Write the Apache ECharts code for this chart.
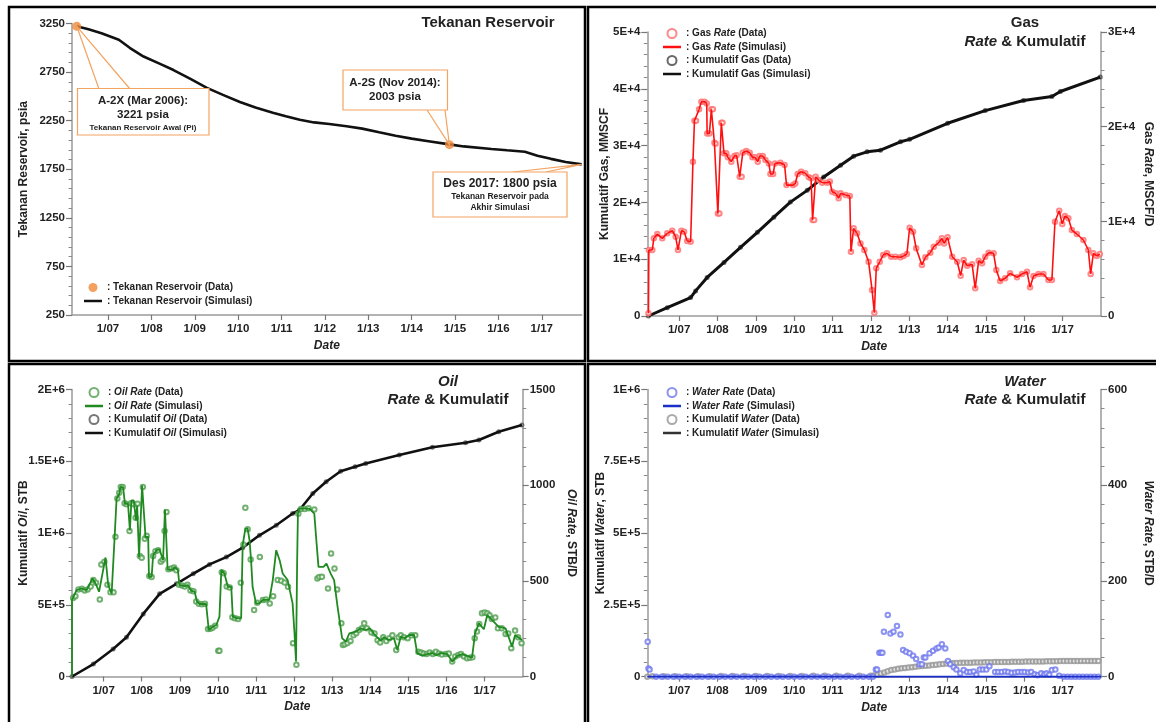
<!DOCTYPE html>
<html>
<head>
<meta charset="utf-8">
<script src="https://cdn.jsdelivr.net/npm/echarts@6.0.0/dist/echarts.min.js"></script>
<style>
  html, body { margin: 0; padding: 0; background: #fff; }
  #main { width: 1156px; height: 722px; }
</style>
</head>
<body>
<div id="main"></div>
<script>
// ---- Data (x = decimal year) ----
const yearTicks = [2007, 2008, 2009, 2010, 2011, 2012, 2013, 2014, 2015, 2016, 2017];

// Reservoir pressure, psia
const pressureData = [[2006.28, 3221], [2014.87, 2003]];
const pressureSim = [
  [2006.28, 3221], [2006.55, 3190], [2006.85, 3150], [2007.25, 3082], [2007.5, 3000],
  [2007.82, 2910], [2008.2, 2835], [2008.51, 2771], [2008.9, 2680], [2009.28, 2588],
  [2009.65, 2515], [2010.04, 2442], [2010.4, 2385], [2010.8, 2332], [2011.1, 2295],
  [2011.42, 2259], [2011.75, 2232], [2012.1, 2215], [2012.5, 2192], [2012.86, 2168],
  [2013.25, 2130], [2013.63, 2094], [2014.0, 2065], [2014.39, 2039], [2014.87, 2006],
  [2015.2, 1985], [2015.84, 1959], [2016.2, 1945], [2016.61, 1930], [2016.9, 1890],
  [2017.21, 1857], [2017.55, 1825], [2017.92, 1800]
];

// Gas rate, MSCF/D
const gasRate = [
  [2006.2, 300], [2006.21, 6970], [2006.3, 6970], [2006.34, 8200], [2006.43, 8660], [2006.56, 8200],
  [2006.69, 8730], [2006.82, 9010], [2006.91, 8370], [2006.97, 6970], [2007.06, 9010], [2007.13, 8900],
  [2007.21, 7920], [2007.3, 7850], [2007.36, 16300], [2007.4, 20620], [2007.44, 20620], [2007.52, 21830],
  [2007.58, 22630], [2007.66, 22630], [2007.72, 22460], [2007.73, 19290], [2007.79, 19290], [2007.84, 21830],
  [2007.88, 21830], [2007.92, 18300], [2007.95, 18200], [2008.01, 10840], [2008.05, 10840], [2008.1, 20410],
  [2008.13, 20410], [2008.17, 17180], [2008.23, 17180], [2008.27, 16760], [2008.36, 16300], [2008.44, 16900],
  [2008.5, 16970], [2008.58, 14710], [2008.63, 14710], [2008.66, 17250], [2008.75, 17420], [2008.84, 17250],
  [2008.91, 16760], [2008.98, 16760], [2009.05, 16300], [2009.1, 16900], [2009.18, 16900], [2009.25, 16470],
  [2009.34, 16120], [2009.38, 15000], [2009.45, 15000], [2009.5, 16120], [2009.64, 16190], [2009.75, 15950],
  [2009.8, 13830], [2009.97, 13830], [2010.03, 14000], [2010.09, 15000], [2010.18, 15240], [2010.29, 15070],
  [2010.38, 14650], [2010.44, 14540], [2010.48, 10140], [2010.52, 10140], [2010.56, 14710], [2010.64, 14360],
  [2010.73, 14080], [2010.86, 14080], [2010.93, 14200], [2010.99, 13130], [2011.08, 12960], [2011.16, 12430],
  [2011.21, 12960], [2011.34, 12780], [2011.45, 12670], [2011.48, 6790], [2011.55, 9260], [2011.64, 8730],
  [2011.73, 7670], [2011.83, 6970], [2011.94, 5730], [2012.03, 2750], [2012.09, 350], [2012.14, 5040],
  [2012.23, 5730], [2012.32, 6440], [2012.42, 6620], [2012.53, 6260], [2012.64, 6260], [2012.77, 6200],
  [2012.85, 6340], [2012.94, 6550], [2013.01, 9320], [2013.1, 8900], [2013.18, 7150], [2013.33, 5390],
  [2013.42, 6200], [2013.55, 6690], [2013.64, 7320], [2013.77, 7740], [2013.85, 8200], [2013.91, 7670],
  [2014.0, 8310], [2014.12, 6260], [2014.25, 5730], [2014.34, 4260], [2014.42, 5910], [2014.51, 5310],
  [2014.64, 5460], [2014.72, 2920], [2014.81, 5840], [2014.9, 5570], [2014.98, 6260], [2015.07, 6690],
  [2015.2, 6620], [2015.27, 4860], [2015.37, 3700], [2015.5, 3980], [2015.63, 4510], [2015.81, 4090],
  [2015.94, 4440], [2016.07, 4680], [2016.15, 3030], [2016.24, 4220], [2016.37, 4440], [2016.5, 4440],
  [2016.63, 3800], [2016.72, 3800], [2016.8, 9960], [2016.91, 11120], [2016.99, 9710], [2017.06, 10560],
  [2017.15, 10320], [2017.24, 9080], [2017.37, 8660], [2017.54, 8030], [2017.67, 6970], [2017.73, 4440],
  [2017.8, 6620], [2017.89, 6340], [2017.97, 6550]
];

// Cumulative gas, MMSCF
const gasCum = [
  [2006.2, 0], [2006.69, 1470], [2007.3, 3240], [2007.43, 4420], [2007.73, 6780], [2008.17, 9430],
  [2008.6, 12090], [2009.04, 14740], [2009.47, 17400], [2009.9, 20050], [2010.34, 22120], [2010.77, 24480],
  [2011.21, 26550], [2011.55, 28140], [2011.9, 28900], [2012.25, 29200], [2012.77, 30670], [2013.01, 31100],
  [2014.0, 33930], [2014.98, 36160], [2015.98, 37930], [2016.72, 38640], [2016.94, 39520], [2017.98, 42070]
];

// Oil rate, STB/D
const oilRateSim = [
  [2006.17, 0], [2006.17, 400], [2006.2, 400], [2006.29, 451], [2006.42, 460], [2006.55, 451], [2006.71, 512],
  [2006.79, 486], [2006.88, 443], [2006.97, 538], [2007.05, 622], [2007.12, 478], [2007.21, 434], [2007.29, 733],
  [2007.34, 929], [2007.41, 955], [2007.44, 990], [2007.51, 990], [2007.56, 903], [2007.64, 903], [2007.69, 764],
  [2007.73, 920], [2007.79, 920], [2007.85, 816], [2007.88, 894], [2007.93, 625], [2007.97, 625], [2008.01, 998],
  [2008.05, 998], [2008.1, 729], [2008.17, 729], [2008.19, 521], [2008.26, 521], [2008.3, 634], [2008.39, 660],
  [2008.47, 664], [2008.56, 608], [2008.61, 872], [2008.65, 872], [2008.68, 559], [2008.82, 559], [2008.86, 573],
  [2008.95, 556], [2008.99, 478], [2009.13, 472], [2009.21, 478], [2009.3, 448], [2009.39, 443], [2009.45, 391],
  [2009.52, 379], [2009.69, 379], [2009.76, 243], [2009.87, 260], [2009.96, 269], [2010.04, 313], [2010.09, 556],
  [2010.17, 538], [2010.26, 469], [2010.35, 469], [2010.39, 313], [2010.5, 304], [2010.61, 304], [2010.65, 686],
  [2010.72, 773], [2010.78, 773], [2010.83, 712], [2010.87, 608], [2010.91, 469], [2011.0, 382], [2011.09, 382],
  [2011.18, 400], [2011.35, 400], [2011.44, 504], [2011.53, 660], [2011.62, 608], [2011.7, 538], [2011.83, 504],
  [2011.96, 382], [2012.01, 226], [2012.05, 78], [2012.08, 608], [2012.1, 851], [2012.14, 877], [2012.4, 877],
  [2012.53, 851], [2012.59, 695], [2012.64, 573], [2012.77, 573], [2012.85, 590], [2012.96, 538], [2013.05, 504],
  [2013.14, 365], [2013.26, 200], [2013.36, 182], [2013.45, 226], [2013.62, 234], [2013.75, 252], [2013.88, 243],
  [2013.99, 252], [2014.1, 222], [2014.27, 188], [2014.36, 205], [2014.49, 191], [2014.62, 200], [2014.71, 139],
  [2014.8, 208], [2014.91, 200], [2015.02, 217], [2015.15, 217], [2015.23, 122], [2015.36, 109], [2015.49, 117],
  [2015.63, 122], [2015.73, 111], [2015.85, 122], [2016.02, 117], [2016.15, 78], [2016.28, 108], [2016.41, 117],
  [2016.54, 108], [2016.67, 99], [2016.75, 226], [2016.85, 278], [2016.98, 247], [2017.07, 321], [2017.2, 295],
  [2017.37, 260], [2017.55, 252], [2017.72, 156], [2017.8, 217], [2017.98, 191]
];
const oilRateData = [
  [2006.2, 410], [2006.26, 420], [2006.34, 455], [2006.43, 458], [2006.5, 450], [2006.58, 455], [2006.66, 470],
  [2006.73, 505], [2006.8, 490], [2006.9, 403], [2006.94, 585], [2007.02, 600], [2007.1, 480], [2007.18, 440],
  [2007.26, 440], [2007.31, 730], [2007.36, 930], [2007.41, 960], [2007.45, 990], [2007.5, 990], [2007.55, 905],
  [2007.6, 900], [2007.68, 760], [2007.72, 905], [2007.78, 900], [2007.84, 830], [2007.89, 903], [2007.95, 630],
  [2008.0, 620], [2008.03, 990], [2008.08, 720], [2008.13, 735], [2008.2, 525], [2008.26, 520], [2008.3, 630],
  [2008.36, 655], [2008.43, 660], [2008.5, 600], [2008.55, 610], [2008.6, 760], [2008.65, 860], [2008.7, 560],
  [2008.78, 565], [2008.85, 570], [2008.91, 555], [2008.98, 480], [2009.06, 475], [2009.13, 470], [2009.2, 480],
  [2009.28, 450], [2009.36, 445], [2009.43, 392], [2009.5, 380], [2009.58, 378], [2009.66, 380], [2009.74, 248],
  [2009.8, 250], [2009.86, 255], [2009.93, 265], [2010.01, 134], [2010.04, 134], [2010.1, 545], [2010.15, 540],
  [2010.23, 470], [2010.31, 465], [2010.38, 310], [2010.45, 305], [2010.53, 300], [2010.6, 490], [2010.67, 690],
  [2010.72, 882], [2010.78, 770], [2010.86, 611], [2010.95, 347], [2011.03, 385], [2011.1, 625], [2011.18, 400],
  [2011.26, 402], [2011.36, 382], [2011.45, 420], [2011.57, 505], [2011.66, 500], [2011.75, 491], [2011.84, 469],
  [2011.97, 174], [2012.06, 61], [2012.11, 850], [2012.18, 875], [2012.28, 875], [2012.38, 880], [2012.53, 873],
  [2012.61, 512], [2012.66, 520], [2012.73, 521], [2012.89, 460], [2012.97, 643], [2013.06, 565], [2013.13, 455],
  [2013.24, 278], [2013.28, 165], [2013.33, 168], [2013.4, 175], [2013.48, 186], [2013.56, 215], [2013.63, 226],
  [2013.7, 243], [2013.78, 252], [2013.84, 278], [2013.91, 252], [2014.03, 230], [2014.11, 225], [2014.19, 190],
  [2014.26, 178], [2014.34, 205], [2014.42, 185], [2014.5, 200], [2014.58, 215], [2014.68, 138], [2014.74, 205],
  [2014.8, 215], [2014.88, 205], [2014.98, 200], [2015.08, 215], [2015.18, 215], [2015.26, 130], [2015.33, 125],
  [2015.4, 120], [2015.48, 118], [2015.56, 125], [2015.64, 118], [2015.72, 130], [2015.8, 120], [2015.88, 115],
  [2015.98, 118], [2016.06, 120], [2016.15, 78], [2016.23, 105], [2016.31, 112], [2016.38, 118], [2016.46, 105],
  [2016.54, 95], [2016.61, 98], [2016.68, 100], [2016.74, 200], [2016.8, 235], [2016.86, 275], [2016.93, 330],
  [2017.0, 335], [2017.07, 330], [2017.13, 320], [2017.19, 300], [2017.28, 309], [2017.35, 252], [2017.45, 252],
  [2017.55, 222], [2017.62, 225], [2017.7, 148], [2017.8, 240], [2017.88, 205], [2017.97, 174]
];

// Cumulative oil, STB
const oilCum = [
  [2006.17, 0], [2006.73, 87000], [2007.25, 192000], [2007.6, 273000], [2008.04, 436000], [2008.47, 576000],
  [2008.91, 646000], [2009.35, 716000], [2009.78, 781000], [2010.22, 832000], [2010.65, 898000], [2011.09, 984000],
  [2011.53, 1054000], [2011.96, 1136000], [2012.14, 1160000], [2012.49, 1275000], [2012.84, 1357000],
  [2013.22, 1430000], [2013.6, 1462000], [2013.88, 1485000], [2014.76, 1543000], [2015.63, 1597000],
  [2016.5, 1629000], [2016.85, 1648000], [2017.37, 1706000], [2017.98, 1753000]
];

// Water rate, STB/D
const waterRateData = [
  [2006.18, 73], [2006.2, 17], [2006.23, 15], [2006.4, 0], [2006.55, 0], [2006.7, 0], [2006.85, 0], [2007.0, 0],
  [2007.15, 0], [2007.3, 0], [2007.45, 0], [2007.6, 0], [2007.75, 0], [2007.9, 0], [2008.05, 0], [2008.2, 0],
  [2008.35, 0], [2008.5, 0], [2008.65, 0], [2008.8, 0], [2008.95, 0], [2009.1, 0], [2009.25, 0], [2009.4, 0],
  [2009.55, 0], [2009.7, 0], [2009.85, 0], [2010.0, 0], [2010.15, 0], [2010.3, 0], [2010.45, 0], [2010.6, 0],
  [2010.75, 0], [2010.9, 0], [2011.05, 0], [2011.2, 0], [2011.35, 0], [2011.5, 0], [2011.65, 0], [2011.8, 0],
  [2011.95, 0], [2012.05, 0], [2012.13, 15], [2012.16, 15], [2012.22, 50], [2012.26, 50], [2012.3, 50],
  [2012.34, 94], [2012.44, 129], [2012.51, 90], [2012.59, 94], [2012.68, 106], [2012.77, 88], [2012.84, 56],
  [2012.92, 52], [2013.01, 49], [2013.1, 44], [2013.18, 37], [2013.27, 26], [2013.33, 26], [2013.38, 40],
  [2013.42, 40], [2013.53, 49], [2013.62, 54], [2013.71, 59], [2013.77, 61], [2013.85, 68], [2013.94, 59],
  [2014.01, 33], [2014.07, 26], [2014.16, 20], [2014.23, 15], [2014.33, 7], [2014.42, 14], [2014.51, 10],
  [2014.59, 10], [2014.68, 11], [2014.75, 4], [2014.84, 15], [2014.92, 15], [2015.01, 15], [2015.09, 22],
  [2015.24, 10], [2015.32, 10], [2015.41, 10], [2015.5, 11], [2015.58, 10], [2015.67, 8], [2015.76, 9],
  [2015.84, 10], [2015.93, 10], [2016.01, 10], [2016.1, 9], [2016.18, 10], [2016.27, 5], [2016.35, 3],
  [2016.44, 7], [2016.52, 5], [2016.58, 7], [2016.65, 4], [2016.72, 14], [2016.81, 15], [2016.91, 2],
  [2017.03, 0], [2017.13, 0], [2017.23, 0], [2017.33, 0], [2017.43, 0], [2017.53, 0], [2017.63, 0],
  [2017.73, 0], [2017.83, 0], [2017.93, 0]
];
const waterRateSim = [[2006.17, 0], [2012.1, 0], [2018.0, 0]];

// Cumulative water, STB
const waterCum = [
  [2006.17, 0], [2006.3, 1500], [2006.6, 1600], [2006.9, 1700], [2007.2, 1800], [2007.5, 1900], [2007.8, 2000],
  [2008.1, 2100], [2008.4, 2200], [2008.7, 2300], [2009.0, 2400], [2009.3, 2500], [2009.6, 2600], [2009.9, 2700],
  [2010.2, 2800], [2010.5, 2900], [2010.8, 3000], [2011.1, 3100], [2011.4, 3200], [2011.7, 3300], [2012.0, 3500],
  [2012.08, 4500], [2012.17, 7000], [2012.26, 11000], [2012.35, 15000], [2012.44, 19000], [2012.53, 23000],
  [2012.62, 25500], [2012.71, 27500], [2012.8, 29000], [2012.89, 30500], [2012.98, 32000], [2013.07, 33000],
  [2013.16, 34500], [2013.25, 36000], [2013.34, 37000], [2013.43, 38000], [2013.52, 39200], [2013.61, 40400],
  [2013.7, 41600], [2013.79, 43000], [2013.88, 44500], [2013.97, 46000], [2014.06, 47000], [2014.15, 47500],
  [2014.24, 47900], [2014.33, 48200], [2014.42, 48500], [2014.51, 48800], [2014.6, 49000], [2014.69, 49300],
  [2014.78, 49500], [2014.87, 49800], [2014.96, 50000], [2015.05, 50300], [2015.14, 50600], [2015.23, 50800],
  [2015.32, 51000], [2015.41, 51200], [2015.5, 51400], [2015.59, 51600], [2015.68, 51800], [2015.77, 52000],
  [2015.86, 52200], [2015.95, 52400], [2016.04, 52600], [2016.13, 52800], [2016.22, 53000], [2016.31, 53100],
  [2016.4, 53200], [2016.49, 53300], [2016.58, 53400], [2016.67, 53500], [2016.76, 53800], [2016.85, 54100],
  [2016.94, 54300], [2017.03, 54400], [2017.12, 54500], [2017.21, 54500], [2017.3, 54600], [2017.39, 54600],
  [2017.48, 54700], [2017.57, 54700], [2017.66, 54800], [2017.75, 54800], [2017.84, 54900], [2017.93, 54900]
];

// ---- Styling helpers ----
const FONT = '"Liberation Sans", Arial, Helvetica, sans-serif';
const INK = '#222';
const ORANGE = '#f0883a';
const ORANGE_LINE = '#f3a462';
// short horizontal bar used as the legend key of the simulated curves
const LINE_ICON = 'path://M0,0H36V5H0Z';

function sci(v) {
  if (v === 0) return '0';
  const e = Math.floor(Math.log10(v) + 1e-9);
  const m = Math.round(v / Math.pow(10, e) * 100) / 100;
  return m + 'E+' + e;
}

function xAxis(grid, min, max, nameGap) {
  return {
    type: 'value', gridIndex: grid, min, max,
    name: 'Date', nameLocation: 'middle', nameGap, nameMoveOverlap: false,
    nameTextStyle: { fontFamily: FONT, fontSize: 12, fontWeight: 'bold', fontStyle: 'italic', color: INK },
    axisLine: { onZero: false, lineStyle: { color: '#9a9a9a', width: 1.5 } },
    axisTick: { show: true, customValues: yearTicks, length: 5, lineStyle: { color: '#777', width: 1.2 } },
    axisLabel: {
      customValues: yearTicks, margin: 8,
      formatter: v => '1/' + String(Math.round(v)).slice(2),
      fontFamily: FONT, fontSize: 11.5, fontWeight: 'bold', color: INK
    },
    splitLine: { show: false }
  };
}

function yAxis(grid, position, min, max, interval, fmt, name, nameGap, nameRotate) {
  return {
    type: 'value', gridIndex: grid, position, min, max, interval,
    name, nameLocation: 'middle', nameGap, nameRotate, nameMoveOverlap: false,
    nameTextStyle: {
      fontFamily: FONT, fontSize: 12, fontWeight: 'bold', color: INK,
      rich: { i: { fontFamily: FONT, fontSize: 12, fontWeight: 'bold', fontStyle: 'italic', color: INK } }
    },
    axisLine: { show: true, onZero: false, lineStyle: { color: '#9a9a9a', width: 1.5 } },
    axisTick: { show: true, length: 6, lineStyle: { color: '#777', width: 1.2 } },
    minorTick: { show: true, splitNumber: 5, length: 3.5, lineStyle: { color: '#8a8a8a', width: 1 } },
    axisLabel: { formatter: fmt, margin: 7, fontFamily: FONT, fontSize: 11.5, fontWeight: 'bold', color: INK },
    splitLine: { show: false }, minorSplitLine: { show: false }
  };
}

function legend(items, left, top) {
  const base = { fontFamily: FONT, fontSize: 10, fontWeight: 'bold', color: INK, lineHeight: 11 };
  return {
    data: items.map(([name, isLine]) => isLine ? { name, icon: LINE_ICON } : { name }),
    orient: 'vertical', left, top, padding: 0,
    itemWidth: 18, itemHeight: 9, itemGap: 2.5, selectedMode: false,
    formatter: n => ': ' + n.replace(/(Oil|Water|Rate)/g, '{i|$1}'),
    textStyle: Object.assign({}, base, { rich: { i: Object.assign({}, base, { fontStyle: 'italic' }) } })
  };
}

const dots = (name, x, y, data, color, size, z, bw) => ({
  name, type: 'scatter', xAxisIndex: x, yAxisIndex: y, data,
  symbol: 'emptyCircle', symbolSize: size,
  itemStyle: { color, borderColor: color, borderWidth: bw || 1 }, z
});
const curve = (name, x, y, data, color, width, z) => ({
  name, type: 'line', xAxisIndex: x, yAxisIndex: y, data,
  symbol: 'none', lineStyle: { color, width }, itemStyle: { color }, z
});

const chart = echarts.init(document.getElementById('main'), null, { renderer: 'canvas' });

const option = {
  animation: false,
  backgroundColor: '#fff',
  textStyle: { fontFamily: FONT },
  grid: [
    { left: 72, top: 23.5, width: 509.7, height: 291.5 },
    { left: 647.3, top: 32, width: 453.7, height: 284 },
    { left: 72, top: 389.5, width: 450.7, height: 287 },
    { left: 647.3, top: 389.5, width: 453.7, height: 287.2 }
  ],
  xAxis: [
    xAxis(0, 2006.17, 2017.92, 25),
    xAxis(1, 2006.17, 2018.0, 25),
    xAxis(2, 2006.17, 2018.0, 24),
    xAxis(3, 2006.17, 2018.0, 25)
  ],
  yAxis: [
    yAxis(0, 'left', 250, 3250, 500, v => String(v), 'Tekanan Reservoir, psia', 42, 90),
    yAxis(1, 'left', 0, 50000, 10000, sci, 'Kumulatif Gas, MMSCF', 37, 90),
    yAxis(1, 'right', 0, 30000, 10000, sci, 'Gas {i|Rate}, MSCF/D', 41, -90),
    yAxis(2, 'left', 0, 2000000, 500000, sci, 'Kumulatif {i|Oil}, STB', 42, 90),
    yAxis(2, 'right', 0, 1500, 500, v => String(v), '{i|Oil Rate}, STB/D', 43, -90),
    yAxis(3, 'left', 0, 1000000, 250000, sci, 'Kumulatif {i|Water}, STB', 41, 90),
    yAxis(3, 'right', 0, 600, 200, v => String(v), '{i|Water Rate}, STB/D', 41, -90)
  ],
  legend: [
    legend([['Tekanan Reservoir (Data)', false], ['Tekanan Reservoir (Simulasi)', true]], 84, 282),
    legend([['Gas Rate (Data)', false], ['Gas Rate (Simulasi)', true],
            ['Kumulatif Gas (Data)', false], ['Kumulatif Gas (Simulasi)', true]], 663, 28),
    legend([['Oil Rate (Data)', false], ['Oil Rate (Simulasi)', true],
            ['Kumulatif Oil (Data)', false], ['Kumulatif Oil (Simulasi)', true]], 85, 387),
    legend([['Water Rate (Data)', false], ['Water Rate (Simulasi)', true],
            ['Kumulatif Water (Data)', false], ['Kumulatif Water (Simulasi)', true]], 663, 387)
  ],
  series: [
    // Reservoir pressure
    curve('Tekanan Reservoir (Simulasi)', 0, 0, pressureSim, '#111', 2.6, 3),
    {
      name: 'Tekanan Reservoir (Data)', type: 'scatter', xAxisIndex: 0, yAxisIndex: 0, data: pressureData,
      symbol: 'circle', symbolSize: 9, itemStyle: { color: ORANGE }, z: 6
    },
    // Gas
    dots('Kumulatif Gas (Data)', 1, 1, gasCum, '#444', 3, 3),
    curve('Kumulatif Gas (Simulasi)', 1, 1, gasCum, '#111', 3, 4),
    dots('Gas Rate (Data)', 1, 2, gasRate, '#ff6a6a', 4.5, 5),
    curve('Gas Rate (Simulasi)', 1, 2, gasRate, '#ff1010', 1.6, 6),
    // Oil
    dots('Kumulatif Oil (Data)', 2, 3, oilCum, '#555', 3, 3),
    curve('Kumulatif Oil (Simulasi)', 2, 3, oilCum, '#111', 2.6, 4),
    dots('Oil Rate (Data)', 2, 4, oilRateData, '#4f9e4f', 4.5, 5),
    curve('Oil Rate (Simulasi)', 2, 4, oilRateSim, '#1f8a1f', 1.8, 6),
    // Water
    curve('Kumulatif Water (Simulasi)', 3, 5, waterCum, '#333', 1.2, 3),
    dots('Kumulatif Water (Data)', 3, 5, waterCum, '#959595', 4.5, 4, 0.9),
    dots('Water Rate (Data)', 3, 6, waterRateData, '#6f78ee', 4.5, 5, 0.9),
    curve('Water Rate (Simulasi)', 3, 6, waterRateSim, '#1a2fc8', 2, 6)
  ]
};
chart.setOption(option);

// ---- Frames, titles and pressure callouts ----
const txt = (x, y, text, size, extra) => ({
  type: 'text', x, y, silent: true, z: 50,
  style: Object.assign({
    text, fill: INK, font: 'bold ' + size + 'px ' + FONT,
    textAlign: 'center', textVerticalAlign: 'middle',
    rich: { i: { fontFamily: FONT, fontSize: size, fontWeight: 'bold', fontStyle: 'italic', fill: INK } }
  }, extra || {})
});
const frame = (x, y, w, h) => ({
  type: 'rect', silent: true, z: 60, shape: { x, y, width: w, height: h },
  style: { fill: 'none', stroke: '#000', lineWidth: 2.5 }
});
const box = (x, y, w, h) => ({
  type: 'rect', silent: true, z: 40, shape: { x, y, width: w, height: h },
  style: { fill: '#fff', stroke: ORANGE_LINE, lineWidth: 1.2 }
});
const wedge = (a, p, b) => ({
  type: 'polyline', silent: true, z: 39, shape: { points: [a, p, b] },
  style: { fill: 'none', stroke: ORANGE_LINE, lineWidth: 1.2 }
});

const pStart = chart.convertToPixel({ gridIndex: 0 }, pressureData[0]);
const pNov = chart.convertToPixel({ gridIndex: 0 }, pressureData[1]);
const pEnd = chart.convertToPixel({ gridIndex: 0 }, pressureSim[pressureSim.length - 1]);

chart.setOption({
  graphic: [
    frame(9, 7, 576, 354), frame(588, 7, 580, 354),
    frame(9, 364, 576, 370), frame(588, 364, 580, 370),

    txt(488, 23, 'Tekanan Reservoir', 15),
    txt(1025, 23, 'Gas', 15),
    txt(1025, 42, '{i|Rate} & Kumulatif', 15),
    txt(448, 382, '{i|Oil}', 15),
    txt(448, 400, '{i|Rate} & Kumulatif', 15),
    txt(1025, 382, '{i|Water}', 15),
    txt(1025, 400, '{i|Rate} & Kumulatif', 15),

    wedge([99, 89], pStart, [130, 89]),
    box(77.5, 88.5, 131.5, 46.5),
    txt(143, 101, 'A-2X (Mar 2006):', 11.5),
    txt(143, 115, pressureData[0][1] + ' psia', 11.5),
    txt(143, 127.5, 'Tekanan Reservoir Awal (Pi)', 8),

    wedge([427, 110], pNov, [445, 110]),
    box(343, 70, 104.5, 40),
    txt(395, 83, 'A-2S (Nov 2014):', 11.5),
    txt(395, 97, pressureData[1][1] + ' psia', 11.5),

    wedge([513, 172], pEnd, [546, 172]),
    box(433, 172, 134, 45),
    txt(500, 184, 'Des 2017: ' + pressureSim[pressureSim.length - 1][1] + ' psia', 12),
    txt(500, 197, 'Tekanan Reservoir pada', 8.5),
    txt(500, 208, 'Akhir Simulasi', 8.5)
  ]
});
</script>
</body>
</html>
